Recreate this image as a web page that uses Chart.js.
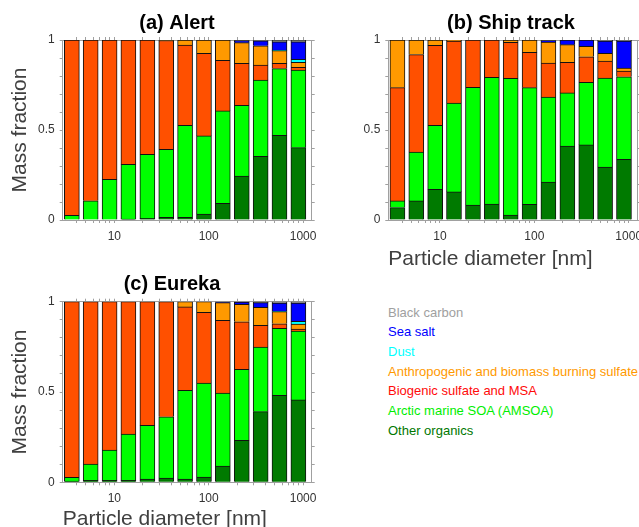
<!DOCTYPE html>
<html><head><meta charset="utf-8">
<script src="https://cdn.jsdelivr.net/npm/chart.js@4/dist/chart.umd.min.js"></script>
<style>
html,body{margin:0;padding:0;width:639px;height:527px;overflow:hidden;background:#fff;}
canvas{position:absolute;}
#legend{position:absolute;left:388px;top:302.7px;font:13px "Liberation Sans",Arial,sans-serif;}
#legend div{height:19.67px;line-height:19.67px;white-space:nowrap;}
</style></head><body>
<canvas id="ca" width="354" height="245" style="left:0px;top:0px"></canvas>
<canvas id="cb" width="302" height="272" style="left:360px;top:0px"></canvas>
<canvas id="cc" width="344" height="270" style="left:0px;top:262px"></canvas>
<div id="legend"></div>
<script>
// ---- data ----
const diameters = [3.55, 5.62, 8.91, 14.1, 22.4, 35.5, 56.2, 89.1, 141, 224, 355, 562, 891];
const xTickValues = [4,5,6,7,8,9,10,20,30,40,50,60,70,80,90,100,200,300,400,500,600,700,800,900,1000];
const xLabeledTicks = [10, 100, 1000];
const xTickLabels = ['10', '100', '1000'];
const yLabeledTicks = [0, 0.5, 1];
const yTickLabels = ['0', '0.5', '1'];

const seriesNames = ['Other organics', 'Arctic marine SOA (AMSOA)', 'Biogenic sulfate and MSA',
  'Anthropogenic and biomass burning sulfate', 'Dust', 'Sea salt', 'Black carbon'];
const barColors = ['#007a00', '#00ff00', '#ff5000', '#ff9900', '#00ffff', '#0000ff', '#8c8c8c'];
const legendColors = ['#007700', '#00ee00', '#ff0a0a', '#ff9900', '#00ffff', '#0000ff', '#a0a0a0'];

const alertOther     = [0, 0, 0, 0.005, 0.009, 0.015, 0.015, 0.033, 0.093, 0.244, 0.354, 0.470, 0.402];
const alertAmsoa     = [0.026, 0.107, 0.226, 0.304, 0.356, 0.378, 0.511, 0.434, 0.513, 0.393, 0.424, 0.371, 0.431];
const alertBiogenic  = [0.974, 0.893, 0.774, 0.691, 0.635, 0.604, 0.446, 0.459, 0.281, 0.233, 0.083, 0.029, 0.015];
const alertAnthro    = [0, 0, 0, 0, 0, 0.003, 0.028, 0.074, 0.113, 0.115, 0.107, 0.071, 0.028];
const alertDust      = [0, 0, 0, 0, 0, 0, 0, 0, 0, 0, 0, 0.003, 0.017];
const alertSeaSalt   = [0, 0, 0, 0, 0, 0, 0, 0, 0, 0.012, 0.028, 0.046, 0.097];
const alertBC        = [0, 0, 0, 0, 0, 0, 0, 0, 0, 0.003, 0.004, 0.010, 0.010];

const shipOther      = [0.069, 0.106, 0.170, 0.156, 0.083, 0.089, 0.028, 0.087, 0.211, 0.411, 0.417, 0.294, 0.337];
const shipAmsoa      = [0.037, 0.272, 0.356, 0.494, 0.654, 0.704, 0.759, 0.648, 0.472, 0.295, 0.348, 0.495, 0.459];
const shipBiogenic   = [0.629, 0.541, 0.444, 0.344, 0.263, 0.207, 0.200, 0.196, 0.189, 0.170, 0.142, 0.094, 0.032];
const shipAnthro     = [0.265, 0.081, 0.030, 0.006, 0, 0, 0.013, 0.069, 0.117, 0.098, 0.058, 0.043, 0.016];
const shipDust       = [0, 0, 0, 0, 0, 0, 0, 0, 0, 0, 0, 0, 0];
const shipSeaSalt    = [0, 0, 0, 0, 0, 0, 0, 0, 0.008, 0.026, 0.035, 0.068, 0.150];
const shipBC         = [0, 0, 0, 0, 0, 0, 0, 0, 0.003, 0, 0, 0.006, 0.006];

const eurekaOther    = [0.007, 0.011, 0.011, 0.011, 0.018, 0.024, 0.018, 0.029, 0.090, 0.232, 0.391, 0.482, 0.456];
const eurekaAmsoa    = [0.021, 0.090, 0.168, 0.256, 0.297, 0.339, 0.491, 0.521, 0.404, 0.394, 0.358, 0.371, 0.382];
const eurekaBiogenic = [0.972, 0.899, 0.821, 0.733, 0.685, 0.637, 0.462, 0.391, 0.403, 0.263, 0.120, 0.025, 0.011];
const eurekaAnthro   = [0, 0, 0, 0, 0, 0, 0.029, 0.059, 0.098, 0.096, 0.100, 0.067, 0.027];
const eurekaDust     = [0, 0, 0, 0, 0, 0, 0, 0, 0, 0, 0, 0.003, 0.015];
const eurekaSeaSalt  = [0, 0, 0, 0, 0, 0, 0, 0, 0.003, 0.013, 0.026, 0.044, 0.101];
const eurekaBC       = [0, 0, 0, 0, 0, 0, 0, 0, 0.002, 0.002, 0.005, 0.008, 0.008];

// ---- styling ----
const FONT = '"Liberation Sans", Arial, Helvetica, sans-serif';
const AXIS_GRAY = '#a0a0a0';
const TICK_TEXT = '#333333';
const TITLE_TEXT = '#404040';
const X_MIN = 2.84, X_MAX = 1233;

function xLabel(v) { const i = xLabeledTicks.indexOf(v); return i >= 0 ? xTickLabels[i] : ''; }
function yLabel(v) { const i = yLabeledTicks.findIndex(t => Math.abs(t - v) < 1e-6); return i >= 0 ? yTickLabels[i] : ''; }
function setXTicks(scale) { scale.ticks = xTickValues.map(v => ({ value: v })); }

function makePanel(id, p) {
  const datasets = p.series.map((vals, k) => ({
    label: seriesNames[k],
    data: diameters.map((d, i) => ({ x: d, y: vals[i] })),
    backgroundColor: barColors[k],
    borderColor: '#111',
    borderWidth: 1,
    barThickness: 15,
    xAxisID: 'x', yAxisID: 'y'
  }));
  const gridCommon = { drawOnChartArea: false, color: AXIS_GRAY, tickLength: 3, offset: false };
  new Chart(document.getElementById(id), {
    type: 'bar',
    data: { datasets },
    options: {
      responsive: false, animation: false, devicePixelRatio: 1, events: [],
      layout: { padding: 0 },
      plugins: {
        legend: { display: false }, tooltip: { enabled: false },
        title: { display: true, text: p.title, color: '#000',
          font: { family: FONT, size: 20, weight: 'bold' }, padding: { top: p.titleTop, bottom: 5 } }
      },
      scales: {
        x: {
          type: 'logarithmic', position: 'bottom', min: X_MIN, max: X_MAX, stacked: true, offset: false,
          afterBuildTicks: setXTicks,
          afterFit: s => { s.height = p.xHeight; },
          border: { color: AXIS_GRAY, width: 1 },
          grid: gridCommon,
          ticks: { autoSkip: false, maxRotation: 0, minRotation: 0, padding: 6, color: TICK_TEXT,
            font: { family: FONT, size: 12 }, callback: xLabel },
          title: { display: !!p.xTitle, text: 'Particle diameter [nm]', align: 'start', color: TITLE_TEXT,
            font: { family: FONT, size: 21 }, padding: { top: 0, bottom: 0 } }
        },
        x2: {
          type: 'logarithmic', position: 'top', min: X_MIN, max: X_MAX, offset: false,
          afterBuildTicks: setXTicks,
          afterFit: s => { s.height = 0; },
          border: { color: AXIS_GRAY, width: 1 },
          grid: gridCommon,
          ticks: { autoSkip: false, maxRotation: 0, padding: 0, callback: () => '' }
        },
        y: {
          type: 'linear', position: 'left', min: 0, max: 1, stacked: true,
          afterFit: s => { s.width = p.yWidth; },
          border: { color: AXIS_GRAY, width: 1 },
          grid: gridCommon,
          ticks: { stepSize: 0.1, autoSkip: false, padding: 5, color: TICK_TEXT,
            font: { family: FONT, size: 12 }, callback: yLabel },
          title: { display: !!p.yTitle, text: 'Mass fraction', color: TITLE_TEXT,
            font: { family: FONT, size: 21 }, padding: { top: 7.4, bottom: 0 } }
        },
        y2: {
          type: 'linear', position: 'right', min: 0, max: 1,
          afterFit: s => { s.width = p.y2Width; },
          border: { color: AXIS_GRAY, width: 1 },
          grid: gridCommon,
          ticks: { stepSize: 0.1, autoSkip: false, padding: 0, callback: () => '' }
        }
      }
    }
  });
}

makePanel('ca', { title: '(a) Alert', titleTop: 11, xHeight: 25, yWidth: 62.7, y2Width: 42.3, yTitle: true, xTitle: false,
  series: [alertOther, alertAmsoa, alertBiogenic, alertAnthro, alertDust, alertSeaSalt, alertBC] });
makePanel('cb', { title: '(b) Ship track', titleTop: 11, xHeight: 52, yWidth: 28.3, y2Width: 24.7, yTitle: false, xTitle: true,
  series: [shipOther, shipAmsoa, shipBiogenic, shipAnthro, shipDust, shipSeaSalt, shipBC] });
makePanel('cc', { title: '(c) Eureka', titleTop: 10.7, xHeight: 49.7, yWidth: 62.7, y2Width: 32.3, yTitle: true, xTitle: true,
  series: [eurekaOther, eurekaAmsoa, eurekaBiogenic, eurekaAnthro, eurekaDust, eurekaSeaSalt, eurekaBC] });

// ---- legend (text only, top = last series) ----
const legend = document.getElementById('legend');
for (let k = seriesNames.length - 1; k >= 0; k--) {
  const row = document.createElement('div');
  row.textContent = seriesNames[k];
  row.style.color = legendColors[k];
  legend.appendChild(row);
}
</script>
</body></html>
